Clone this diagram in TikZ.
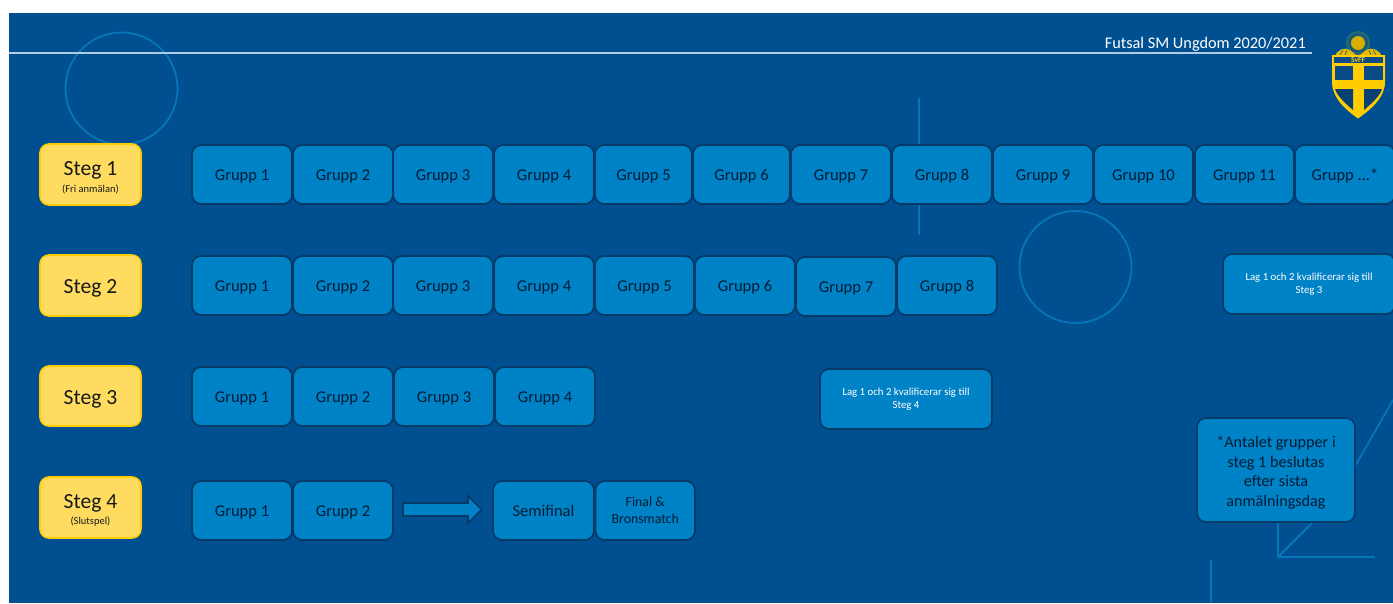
\documentclass[tikz,border=0pt]{standalone}
\usepackage{fontspec}
\setmainfont{Carlito}
\definecolor{bgblue}{RGB}{0,80,145}
\definecolor{boxblue}{RGB}{0,130,198}
\definecolor{boxedge}{RGB}{6,58,104}
\definecolor{ringblue}{RGB}{8,116,186}
\definecolor{stegfill}{RGB}{255,220,96}
\definecolor{stegedge}{RGB}{255,205,0}
\definecolor{inktext}{RGB}{2,28,52}
\definecolor{ruleline}{RGB}{176,204,226}
\definecolor{crestyellow}{RGB}{255,205,0}
\definecolor{crestblue}{RGB}{10,75,135}
\definecolor{crestring}{RGB}{40,110,110}
\tikzset{
  grp/.style={draw=boxedge,line width=1.8pt,fill=boxblue,rounded corners=9pt,inner sep=0pt,text=inktext,font=\fontsize{16.5}{18}\selectfont,align=center},
  oneline/.style={text height=13pt,text depth=1pt},
  lagtext/.style={text=white,font=\fontsize{10.8}{13.5}\selectfont},
  finaltext/.style={font=\fontsize{13.8}{17}\selectfont},
  notetext/.style={font=\fontsize{16.2}{19.7}\selectfont},
  stegbox/.style={draw=stegedge,line width=1.6pt,fill=stegfill,rounded corners=9pt,inner sep=0pt,text=black!90,align=center,font=\fontsize{21.6}{22}\selectfont},
  ring/.style={draw=ringblue,line width=1.8pt},
  deco/.style={draw=ringblue,line width=1.8pt},
}
\newcommand{\gbox}[7][oneline]{\node[grp,minimum width={#4-#3},minimum height={#6-#5},#1] (#2) at ({(#3+#4)/2},{(#5+#6)/2}) {#7};}
\newcommand{\stegnode}[6]{\node[stegbox,minimum width={#3-#2},minimum height={#5-#4}] (#1) at ({(#2+#3)/2},{(#4+#5)/2}) {\rule{0pt}{20pt}#6};}
\newcommand{\stegsub}[1]{{\fontsize{10.5}{10}\selectfont #1}}
\begin{document}
\begin{tikzpicture}[x=1pt,y=-1pt]
\useasboundingbox (0,0) rectangle (1393,603);
\fill[white] (0,0) rectangle (1393,603);
\fill[bgblue] (9,13) rectangle (1393,603);
% decoration
\node[ring,circle,minimum size=112pt,inner sep=0pt] (ringa) at (121.5,88.5) {};
\node[ring,circle,minimum size=112pt,inner sep=0pt] (ringb) at (1075.5,267) {};
\draw[deco] (919,98) -- (919,235);
\draw[deco] (1278,500) -- (1278,557) -- (1375,557);
\draw[deco] (1278,557) -- (1337,498) -- (1393,400);
\draw[deco] (1211,560) -- (1211,603);
% header
\coordinate (ruleL) at (9,53);
\coordinate (ruleR) at (1312,53);
\draw[ruleline,line width=1.2pt] (ruleL) -- (ruleR);
\node[text=white,font=\fontsize{16.3}{18}\selectfont,anchor=base east,inner sep=0pt] (title) at (1306,48) {Futsal SM Ungdom 2020/2021};
% crest
\fill[crestring] (1358,43) circle (12pt);
\fill[crestblue!60!crestring] (1358,43) circle (10pt);
\fill[crestyellow!85!black] (1358,43) circle (7pt);
\fill[crestyellow!90!black] (1335,56) .. controls (1338,49) and (1345,47) .. (1350,50) -- (1356,55) -- (1360,55) -- (1366,50) .. controls (1371,47) and (1378,49) .. (1382,56) -- cycle;
\draw[crestblue,line width=.5pt] (1340,55) -- (1343,50) (1345,55) -- (1347,50) (1376,55) -- (1373,50) (1371,55) -- (1369,50);
\fill[crestyellow] (1332,55) -- (1385,55) -- (1385,82) .. controls (1385,98) and (1370,110) .. (1358,118.5) .. controls (1346,110) and (1332,98) .. (1332,82) -- cycle;
\fill[crestblue] (1334,57) rectangle (1383,63);
\fill[crestblue] (1334.5,66) rectangle (1353,80);
\fill[crestblue] (1364,66) rectangle (1382.5,80);
\fill[crestblue!85!black] (1335,89) -- (1353,89) -- (1353,110) .. controls (1346,104) and (1337,96) .. (1335,89) -- cycle;
\fill[crestblue!85!black] (1364,89) -- (1382,89) .. controls (1380,96) and (1371,104) .. (1364,110) -- cycle;
\node[text=crestyellow,font=\bfseries\fontsize{7.5}{8}\selectfont,inner sep=0pt] (svff) at (1358,60) {SvFF};
% steg
\stegnode{s1}{40}{141}{144}{205}{Steg 1\\[-5.5pt]\stegsub{(Fri anmälan)}}
\stegnode{s2}{40}{141}{255}{316}{Steg 2}
\stegnode{s3}{40}{141}{366}{426}{Steg 3}
\stegnode{s4}{40}{141}{477}{538}{Steg 4\\[-5.5pt]\stegsub{(Slutspel)}}
% row 1
\gbox{a1}{192}{292}{145}{204}{Grupp 1}
\gbox{a2}{293}{393}{145}{204}{Grupp 2}
\gbox{a3}{393}{493}{145}{204}{Grupp 3}
\gbox{a4}{494}{594}{145}{204}{Grupp 4}
\gbox{a5}{595}{692}{145}{204}{Grupp 5}
\gbox{a6}{693}{790}{145}{204}{Grupp 6}
\gbox{a7}{791}{891}{145}{204}{Grupp 7}
\gbox{a8}{892}{992}{145}{204}{Grupp 8}
\gbox{a9}{993}{1093}{145}{204}{Grupp 9}
\gbox{a10}{1094}{1193}{145}{204}{Grupp 10}
\gbox{a11}{1195}{1294}{145}{204}{Grupp 11}
\gbox{a12}{1295}{1395}{145}{204}{Grupp ...*}
% row 2
\gbox{b1}{192}{292}{256}{315}{Grupp 1}
\gbox{b2}{293}{393}{256}{315}{Grupp 2}
\gbox{b3}{393}{493}{256}{315}{Grupp 3}
\gbox{b4}{494}{594}{256}{315}{Grupp 4}
\gbox{b5}{595}{694}{256}{315}{Grupp 5}
\gbox{b6}{695}{795}{256}{315}{Grupp 6}
\gbox{b7}{796}{896}{257}{316}{Grupp 7}
\gbox{b8}{897}{997}{256}{315}{Grupp 8}
\gbox[lagtext]{q3}{1223}{1395}{254}{314}{Lag 1 och 2 kvalificerar sig till\\Steg 3}
% row 3
\gbox{c1}{192}{292}{367}{426}{Grupp 1}
\gbox{c2}{293}{393}{367}{426}{Grupp 2}
\gbox{c3}{394}{494}{367}{426}{Grupp 3}
\gbox{c4}{495}{595}{367}{426}{Grupp 4}
\gbox[lagtext]{q4}{820}{992}{369}{429}{Lag 1 och 2 kvalificerar sig till\\Steg 4}
% row 4
\gbox{d1}{192}{292}{481}{540}{Grupp 1}
\gbox{d2}{293}{393}{481}{540}{Grupp 2}
\gbox{d3}{493}{594}{481}{540}{Semifinal}
\gbox[finaltext]{d4}{595.5}{695}{481}{540}{Final \&\\Bronsmatch}
\fill[boxblue,draw=boxedge,line width=1.6pt] (403,503) -- (468,503) -- (468,496) -- (481.5,509.5) -- (468,523) -- (468,516) -- (403,516) -- cycle;
% note
\gbox[notetext]{note}{1197}{1355}{418}{522}{\rule{0pt}{17pt}*Antalet grupper i\\steg 1 beslutas\\efter sista\\anmälningsdag}
\end{tikzpicture}
\end{document}
